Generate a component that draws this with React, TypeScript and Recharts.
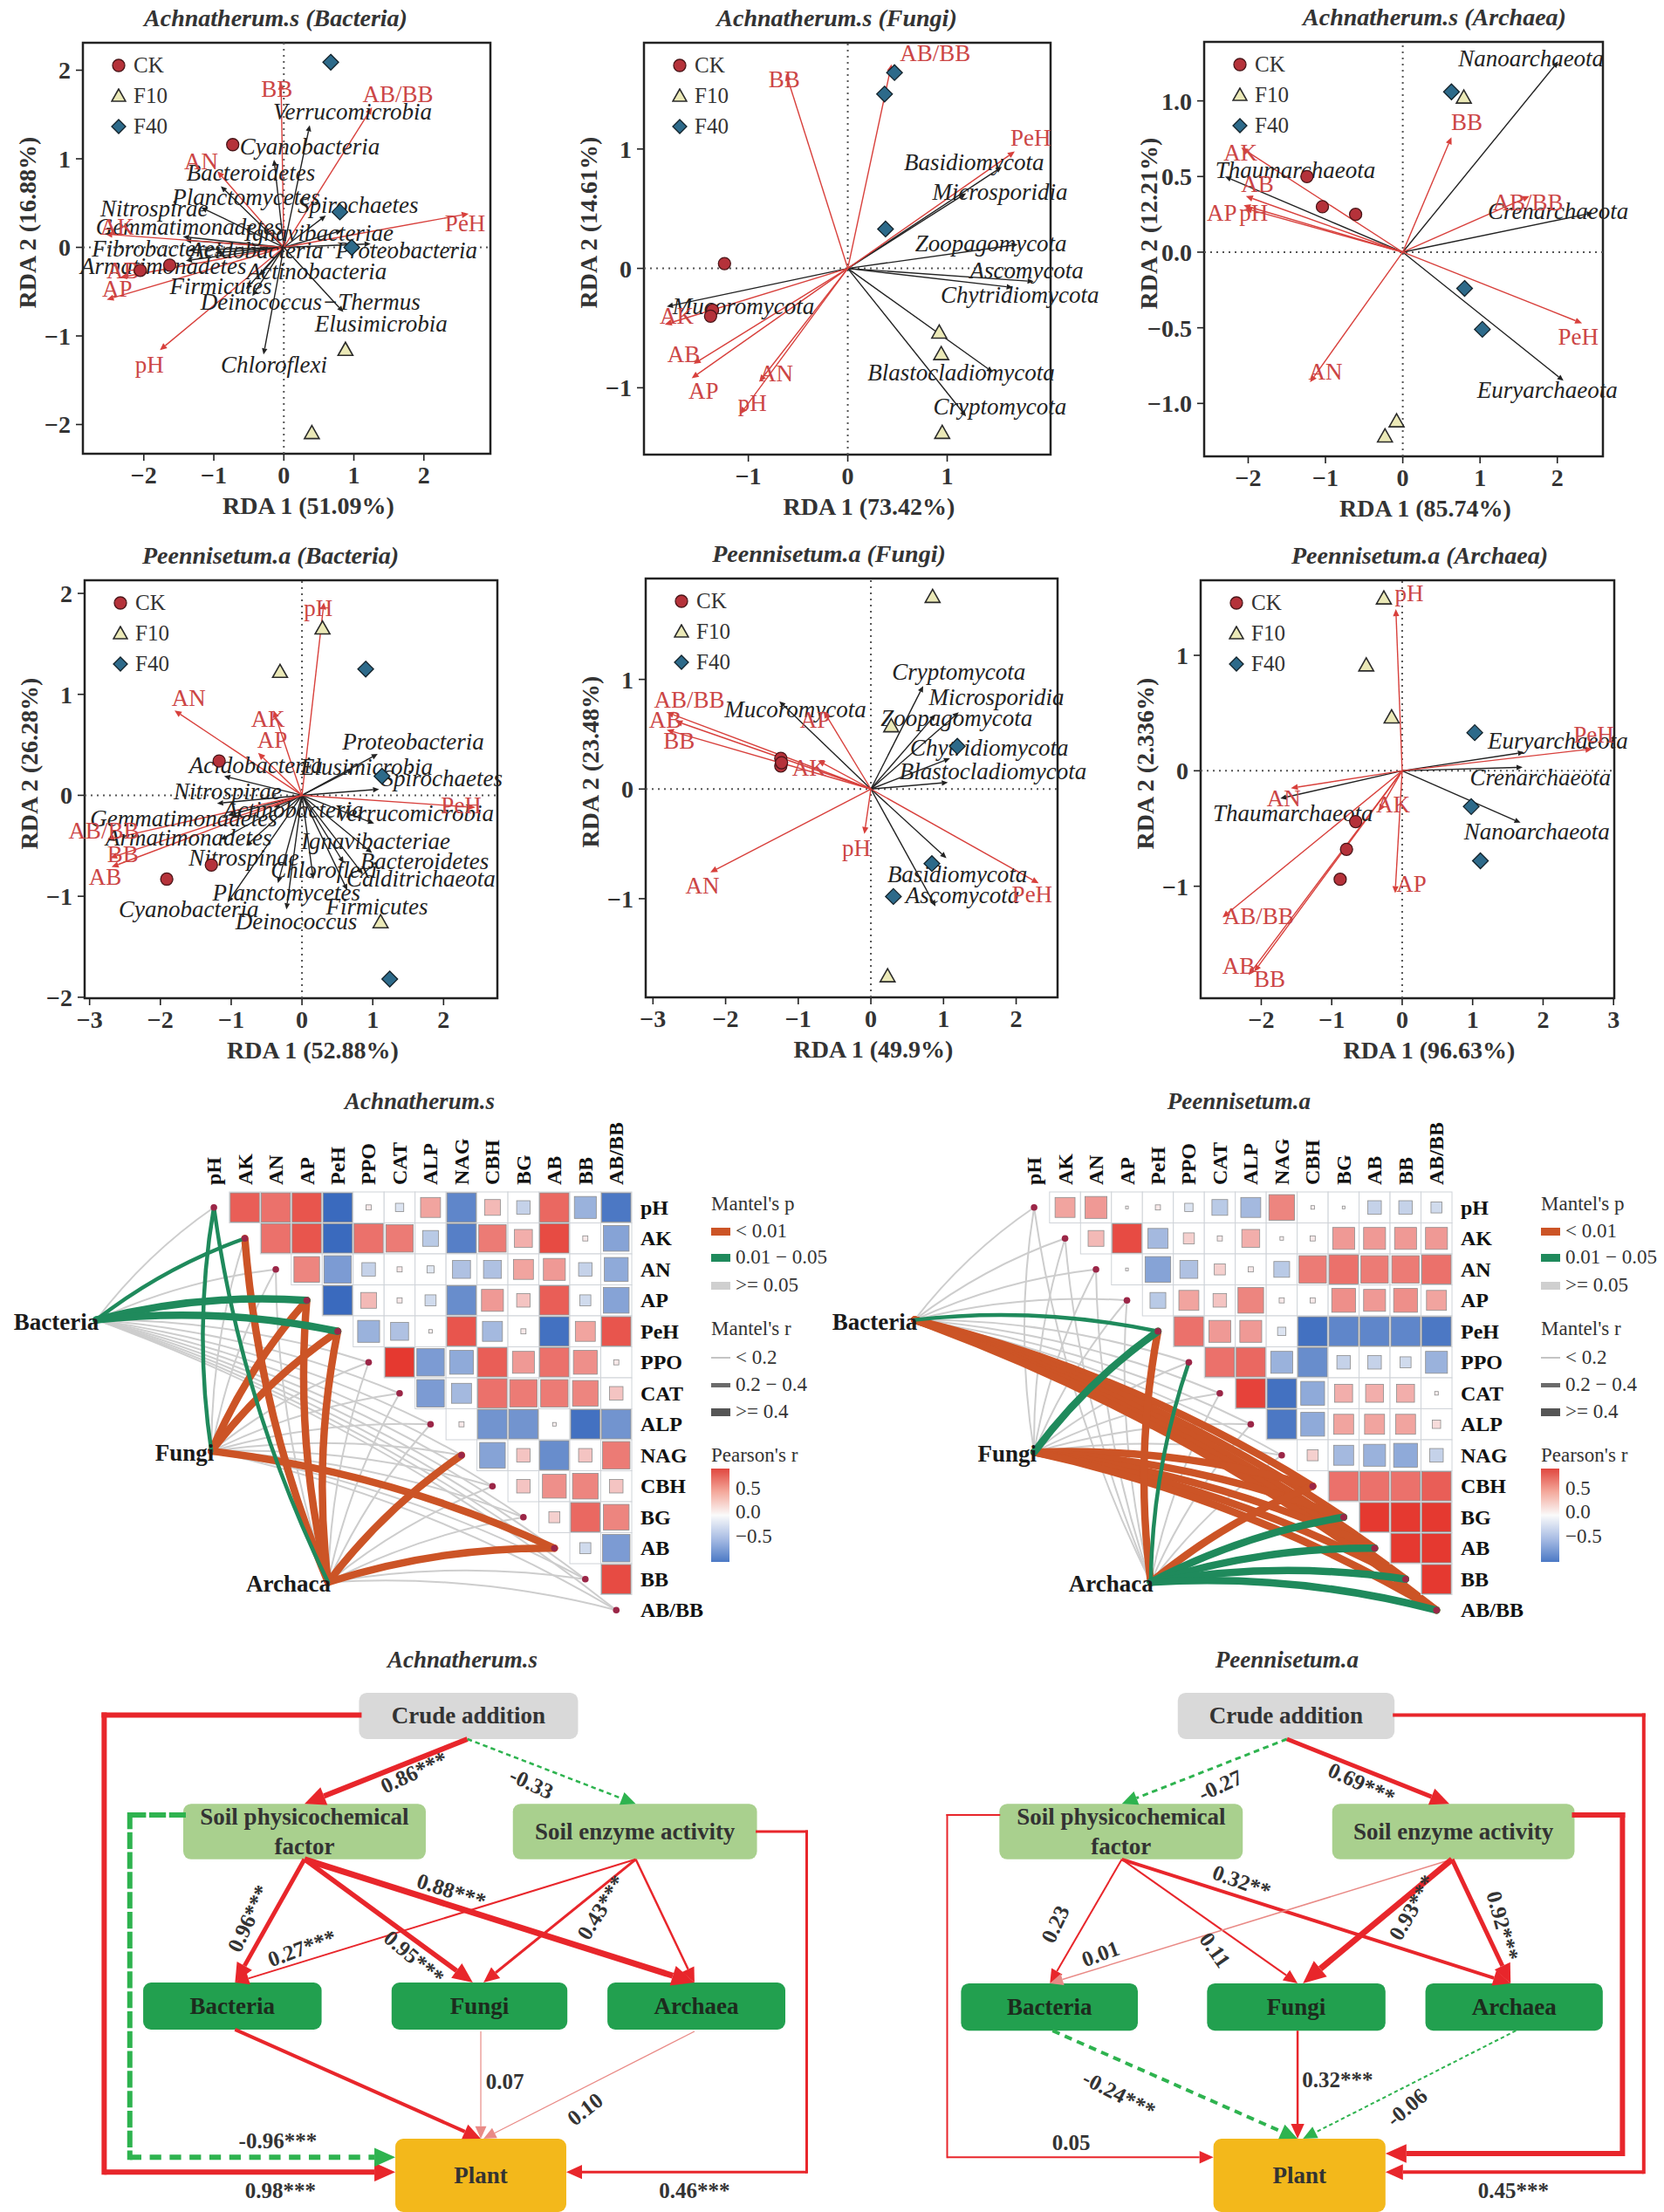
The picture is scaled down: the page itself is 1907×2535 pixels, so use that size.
import { ReferenceArea, ReferenceLine, Scatter, ScatterChart, XAxis, YAxis } from 'recharts'

const SERIF = "'Liberation Serif', 'Times New Roman', Times, serif"
const INK = '#222222'
const RED = '#d8403c'
const RED_TEXT = '#cc4545'

type Pt = [number, number]
// name, tip x, tip y, label x, label y
type Vec = [string, number, number, number, number]

// ---------- RDA: Achnatherum.s (Bacteria)
const aBacCk: Pt[] = [[-0.73, 1.16], [-2.05, -0.26], [-1.63, -0.2]]
const aBacF10: Pt[] = [[0.88, -1.16], [0.4, -2.1]]
const aBacF40: Pt[] = [[0.67, 2.09], [0.8, 0.4], [0.97, 0.0]]
const aBacEnv: Vec[] = [
  ['BB', -0.04, 1.86, -0.1, 1.79],
  ['AB/BB', 1.26, 1.58, 1.63, 1.73],
  ['AN', -0.95, 0.86, -1.18, 0.97],
  ['PeH', 2.64, 0.38, 2.59, 0.27],
  ['AK', -2.55, 0.15, -2.38, 0.23],
  ['AB', -2.34, -0.34, -2.3, -0.26],
  ['AP', -2.53, -0.59, -2.38, -0.47],
  ['pH', -1.77, -1.16, -1.92, -1.33],
]
const aBacTaxa: Vec[] = [
  ['Verrucomicrobia', 0.37, 1.38, 0.98, 1.53],
  ['Cyanobacteria', -0.14, 0.99, 0.37, 1.14],
  ['Bacteroidetes', -0.9, 0.69, -0.47, 0.84],
  ['Planctomycetes', -1.18, 0.45, -0.54, 0.57],
  ['Spirochaetes', 0.6, 0.36, 1.06, 0.48],
  ['Nitrospirae', -1.44, 0.12, -1.85, 0.44],
  ['Gemmatimonadetes', -1.41, 0.08, -1.35, 0.23],
  ['Ignavibacteriae', 0.83, 0.19, 0.5, 0.16],
  ['Fibrobacteres', -1.36, -0.03, -1.8, -0.01],
  ['Acidobacteria', -0.98, -0.06, -0.39, -0.03],
  ['Proteobacteria', 1.24, 0.04, 1.75, -0.03],
  ['Armatimonadetes', -1.4, -0.15, -1.72, -0.21],
  ['Actinobacteria', -0.35, -0.32, 0.47, -0.27],
  ['Firmicutes', -0.54, -0.47, -0.9, -0.44],
  ['Deinococcus\u2212Thermus', -0.45, -0.55, 0.38, -0.62],
  ['Elusimicrobia', 0.85, -0.73, 1.39, -0.86],
  ['Chloroflexi', -0.29, -1.21, -0.14, -1.33],
]

// ---------- RDA: Achnatherum.s (Fungi)
const aFunCk: Pt[] = [[-1.24, 0.04], [-1.36, -0.35], [-1.38, -0.4]]
const aFunF10: Pt[] = [[0.92, -0.54], [0.94, -0.72], [0.95, -1.38]]
const aFunF40: Pt[] = [[0.47, 1.64], [0.37, 1.46], [0.38, 0.33]]
const aFunEnv: Vec[] = [
  ['BB', -0.62, 1.63, -0.64, 1.58],
  ['AB/BB', 0.44, 1.71, 0.88, 1.8],
  ['PeH', 1.68, 0.98, 1.84, 1.09],
  ['AK', -1.84, -0.47, -1.72, -0.4],
  ['AB', -1.55, -0.8, -1.65, -0.72],
  ['AP', -1.57, -0.92, -1.45, -1.03],
  ['AN', -0.89, -0.95, -0.72, -0.88],
  ['pH', -1.08, -1.22, -0.96, -1.13],
]
const aFunTaxa: Vec[] = [
  ['Basidiomycota', 1.55, 0.85, 1.27, 0.89],
  ['Microsporidia', 1.19, 0.63, 1.53, 0.64],
  ['Zoopagomycota', 1.71, 0.2, 1.44, 0.21],
  ['Ascomycota', 1.87, -0.11, 1.8, -0.02],
  ['Chytridiomycota', 1.66, -0.16, 1.73, -0.22],
  ['Blastocladiomycota', 1.46, -0.87, 1.14, -0.87],
  ['Cryptomycota', 1.19, -1.24, 1.53, -1.16],
  ['Mucoromycota', -1.82, -0.32, -1.05, -0.32],
]

// ---------- RDA: Achnatherum.s (Archaea)
const aArcCk: Pt[] = [[-1.24, 0.5], [-1.04, 0.3], [-0.61, 0.25]]
const aArcF10: Pt[] = [[0.79, 1.02], [-0.08, -1.12], [-0.23, -1.22]]
const aArcF40: Pt[] = [[0.63, 1.06], [0.8, -0.24], [1.03, -0.51]]
const aArcEnv: Vec[] = [
  ['BB', 0.63, 0.76, 0.83, 0.86],
  ['AK', -2.09, 0.69, -2.1, 0.66],
  ['AB', -2.03, 0.37, -1.88, 0.45],
  ['AP', -2.06, 0.31, -2.34, 0.26],
  ['pH', -2.04, 0.29, -1.93, 0.26],
  ['AB/BB', 1.64, 0.37, 1.62, 0.33],
  ['PeH', 2.32, -0.47, 2.27, -0.56],
  ['AN', -1.2, -0.86, -1.0, -0.79],
]
const aArcTaxa: Vec[] = [
  ['Nanoarchaeota', 2.01, 1.26, 1.66, 1.28],
  ['Thaumarchaeota', -2.3, 0.5, -1.39, 0.54],
  ['Crenarchaeota', 2.46, 0.26, 2.01, 0.27],
  ['Euryarchaeota', 2.08, -0.85, 1.87, -0.91],
]

// ---------- RDA: Peennisetum.a (Bacteria)
const pBacCk: Pt[] = [[-1.17, 0.34], [-1.28, -0.69], [-1.91, -0.83]]
const pBacF10: Pt[] = [[0.29, 1.65], [-0.31, 1.22], [1.11, -1.26]]
const pBacF40: Pt[] = [[0.9, 1.25], [1.13, 0.19], [1.24, -1.82]]
const pBacEnv: Vec[] = [
  ['pH', 0.31, 1.91, 0.23, 1.85],
  ['AN', -1.8, 0.84, -1.6, 0.96],
  ['AK', -0.4, 0.84, -0.48, 0.76],
  ['AP', -0.62, 0.42, -0.42, 0.55],
  ['PeH', 2.45, -0.12, 2.25, -0.1],
  ['AB/BB', -2.75, -0.44, -2.8, -0.35],
  ['BB', -2.71, -0.62, -2.53, -0.58],
  ['AB', -2.69, -0.71, -2.78, -0.81],
]
const pBacTaxa: Vec[] = [
  ['Proteobacteria', 1.07, 0.41, 1.57, 0.53],
  ['Elusimicrobia', 0.72, 0.26, 0.91, 0.28],
  ['Spirochaetes', 1.09, 0.06, 1.98, 0.17],
  ['Acidobacteria', -1.1, 0.19, -0.65, 0.3],
  ['Nitrospirae', -1.2, -0.08, -1.05, 0.04],
  ['Gemmatimonadetes', -1.05, -0.2, -1.67, -0.23],
  ['Actinobacteria', -0.4, -0.12, -0.12, -0.14],
  ['Verrucomicrobia', 1.02, -0.28, 1.59, -0.18],
  ['Armatimonadetes', -1.15, -0.44, -1.6, -0.42],
  ['Ignavibacteriae', 0.99, -0.57, 1.04, -0.45],
  ['Nitrospinae', -0.79, -0.5, -0.82, -0.62],
  ['Bacteroidetes', 0.59, -0.67, 1.73, -0.65],
  ['Chloroflexi', 0.16, -0.83, 0.31, -0.74],
  ['Calditrichaeota', 0.86, -0.78, 1.68, -0.83],
  ['Planctomycetes', -0.34, -0.87, -0.22, -0.96],
  ['Firmicutes', 0.64, -0.94, 1.06, -1.1],
  ['Cyanobacteria', -1.05, -1.06, -1.6, -1.13],
  ['Deinococcus', -0.22, -1.13, -0.08, -1.25],
]

// ---------- RDA: Peennisetum.a (Fungi)
const pFunCk: Pt[] = [[-1.24, 0.28], [-1.24, 0.21], [-1.23, 0.24]]
const pFunF10: Pt[] = [[0.85, 1.75], [0.28, 0.57], [0.23, -1.71]]
const pFunF40: Pt[] = [[1.19, 0.39], [0.84, -0.68], [0.31, -0.98]]
const pFunEnv: Vec[] = [
  ['AB/BB', -2.81, 0.7, -2.5, 0.81],
  ['AB', -2.69, 0.62, -2.83, 0.63],
  ['BB', -2.81, 0.54, -2.64, 0.44],
  ['AP', -0.65, 0.71, -0.77, 0.63],
  ['AK', -0.73, 0.26, -0.85, 0.19],
  ['pH', -0.09, -0.41, -0.2, -0.54],
  ['AN', -2.21, -0.76, -2.32, -0.88],
  ['PeH', 2.31, -0.86, 2.22, -0.96],
]
const pFunTaxa: Vec[] = [
  ['Mucoromycota', -1.26, 0.8, -1.04, 0.73],
  ['Cryptomycota', 0.72, 0.94, 1.21, 1.07],
  ['Microsporidia', 0.89, 0.68, 1.73, 0.84],
  ['Zoopagomycota', 1.21, 0.7, 1.18, 0.65],
  ['Chytridiomycota', 1.09, 0.28, 1.63, 0.38],
  ['Blastocladiomycota', 1.06, 0.06, 1.68, 0.16],
  ['Basidiomycota', 1.04, -0.63, 1.19, -0.78],
  ['Ascomycota', 0.89, -1.07, 1.26, -0.97],
]

// ---------- RDA: Peennisetum.a (Archaea)
const pArcCk: Pt[] = [[-0.66, -0.44], [-0.79, -0.68], [-0.88, -0.94]]
const pArcF10: Pt[] = [[-0.26, 1.49], [-0.51, 0.91], [-0.15, 0.46]]
const pArcF40: Pt[] = [[1.03, 0.33], [0.98, -0.31], [1.11, -0.78]]
const pArcEnv: Vec[] = [
  ['pH', -0.09, 1.4, 0.1, 1.54],
  ['PeH', 2.7, 0.19, 2.72, 0.31],
  ['AN', -1.58, -0.15, -1.68, -0.24],
  ['AK', -0.33, -0.35, -0.13, -0.29],
  ['AP', -0.1, -1.06, 0.13, -0.98],
  ['AB/BB', -2.55, -1.27, -2.04, -1.26],
  ['AB', -2.18, -1.77, -2.32, -1.69],
  ['BB', -2.1, -1.74, -1.88, -1.8],
]
const pArcTaxa: Vec[] = [
  ['Euryarchaeota', 1.73, 0.16, 2.21, 0.26],
  ['Crenarchaeota', 1.71, 0.03, 1.96, -0.06],
  ['Nanoarchaeota', 1.68, -0.45, 1.91, -0.53],
  ['Thaumarchaeota', -1.73, -0.24, -1.55, -0.37],
]

// ---------- Mantel / Pearson
const VARS = ['pH', 'AK', 'AN', 'AP', 'PeH', 'PPO', 'CAT', 'ALP', 'NAG', 'CBH', 'BG', 'AB', 'BB', 'AB/BB']
// upper triangle, row i holds columns i+1 .. 13
const achCorr: number[][] = [
  [0.7, 0.6, 0.75, -0.9, 0.05, -0.1, 0.35, -0.7, 0.25, -0.2, 0.65, -0.4, -0.8],
  [0.6, 0.75, -0.9, 0.6, 0.55, -0.25, -0.75, 0.55, 0.3, 0.8, 0.05, -0.5],
  [0.5, -0.55, -0.2, 0.05, -0.08, -0.3, -0.3, 0.35, 0.4, -0.2, -0.45],
  [-0.9, 0.25, 0.05, -0.15, -0.65, 0.4, 0.2, 0.7, -0.15, -0.5],
  [-0.4, -0.3, 0.03, 0.75, -0.35, 0.05, -0.85, 0.35, 0.75],
  [0.9, -0.55, -0.45, 0.7, 0.4, 0.6, 0.45, 0.05],
  [-0.55, -0.35, 0.6, 0.55, 0.55, 0.5, 0.2],
  [0.05, -0.6, -0.6, 0.03, -0.85, -0.6],
  [-0.5, 0.2, -0.65, 0.2, 0.55],
  [0.2, 0.45, 0.5, 0.2],
  [0.15, 0.65, 0.5],
  [-0.15, -0.55],
  [0.8],
]
const penCorr: number[][] = [
  [0.35, 0.4, 0.02, 0.05, -0.1, -0.25, -0.35, 0.5, 0.03, 0.02, -0.2, -0.2, -0.15],
  [0.25, 0.8, -0.35, 0.15, 0.05, 0.3, 0.03, 0.05, 0.4, 0.4, 0.4, 0.4],
  [0.02, -0.5, -0.3, 0.15, 0.05, -0.25, 0.55, 0.6, 0.55, 0.55, 0.6],
  [-0.25, 0.35, 0.2, 0.5, 0.05, 0.05, 0.45, 0.4, 0.45, 0.35],
  [0.6, 0.4, 0.4, -0.1, -0.85, -0.7, -0.7, -0.7, -0.8],
  [0.6, 0.65, -0.4, -0.65, -0.2, -0.2, -0.15, -0.4],
  [0.85, -0.85, -0.45, 0.3, 0.3, 0.3, 0.03],
  [-0.8, -0.45, 0.35, 0.35, 0.35, 0.1],
  [0.15, -0.35, -0.4, -0.45, -0.2],
  [0.6, 0.6, 0.6, 0.7],
  [0.95, 0.95, 0.95],
  [0.95, 0.95],
  [0.95],
]
// community node positions in cell units (column, row)
const achNodes: [string, number, number][] = [['Bacteria', -3.8, 3.63], ['Fungi', -0.08, 7.87], ['Archaca', 3.69, 12.1]]
const penNodes: [string, number, number][] = [['Bacteria', -3.86, 3.63], ['Fungi', 0, 7.9], ['Archaca', 3.77, 12.1]]
// node, variable, p class (0 <0.01, 1 0.01-0.05), r class (0 <0.2, 1 0.2-0.4, 2 >=0.4); all others p >= 0.05
const achEdges: [string, string, number, number][] = [
  ['Bacteria', 'AK', 1, 1], ['Bacteria', 'AP', 1, 2], ['Bacteria', 'PeH', 1, 2],
  ['Fungi', 'pH', 1, 1], ['Fungi', 'AP', 0, 2], ['Fungi', 'PeH', 0, 2], ['Fungi', 'AB', 0, 2],
  ['Archaca', 'pH', 1, 1], ['Archaca', 'AK', 0, 2], ['Archaca', 'AP', 0, 2], ['Archaca', 'PeH', 0, 2],
  ['Archaca', 'NAG', 0, 2], ['Archaca', 'AB', 0, 2],
]
const penEdges: [string, string, number, number][] = [
  ['Bacteria', 'PeH', 1, 1], ['Bacteria', 'CBH', 0, 2], ['Bacteria', 'BG', 0, 2], ['Bacteria', 'AB', 0, 2],
  ['Bacteria', 'BB', 0, 2], ['Bacteria', 'AB/BB', 0, 2],
  ['Fungi', 'PeH', 1, 2], ['Fungi', 'CBH', 0, 2], ['Fungi', 'BG', 0, 2], ['Fungi', 'AB', 0, 2],
  ['Fungi', 'BB', 0, 2], ['Fungi', 'AB/BB', 0, 2],
  ['Archaca', 'PeH', 0, 2], ['Archaca', 'PPO', 1, 1], ['Archaca', 'CBH', 0, 2], ['Archaca', 'BG', 1, 2],
  ['Archaca', 'AB', 1, 2], ['Archaca', 'BB', 1, 2], ['Archaca', 'AB/BB', 1, 2],
]

// ---------- SEM (diagram units 0..1568 both ways)
type Box = [string, number, number, number, number, string]
type Link = [number[][], number, number] // points, sign (1 pos, -1 neg, 2 weak pos), width
type Note = [string, number, number, number]
const achBoxes: Box[] = [
  ['Crude addition', 672, 1082, 165, 290, 'crude'],
  ['Soil physicochemical|factor', 343, 797, 465, 615, 'soil'],
  ['Soil enzyme activity', 960, 1417, 465, 615, 'soil'],
  ['Bacteria', 268, 602, 948, 1075, 'microbe'],
  ['Fungi', 733, 1062, 948, 1075, 'microbe'],
  ['Archaea', 1137, 1470, 948, 1075, 'microbe'],
  ['Plant', 740, 1060, 1370, 1568, 'plant'],
]
const achLinks: Link[] = [
  [[[875, 290], [570, 465]], 1, 6],
  [[[875, 290], [1190, 465]], -1, 2.5],
  [[[672, 225], [195, 225], [195, 1460], [740, 1460]], 1, 6],
  [[[343, 495], [243, 495], [243, 1420], [740, 1420]], -1, 6],
  [[[1417, 540], [1510, 540], [1510, 1460], [1060, 1460]], 1, 3],
  [[[570, 615], [440, 948]], 1, 5],
  [[[570, 615], [885, 948]], 1, 5.5],
  [[[570, 615], [1300, 948]], 1, 7],
  [[[1190, 615], [440, 948]], 1, 2],
  [[[1190, 615], [905, 948]], 1, 3],
  [[[1190, 615], [1300, 948]], 1, 2.5],
  [[[440, 1075], [900, 1370]], 1, 4],
  [[[900, 1080], [900, 1370]], 2, 1.2],
  [[[1300, 1080], [905, 1370]], 2, 1.2],
]
const achNotes: Note[] = [
  ['0.86***', 775, 380, -25], ['-0.33', 995, 410, 25], ['0.96***', 465, 775, -65],
  ['0.27***', 565, 855, -20], ['0.95***', 775, 880, 40], ['0.88***', 845, 700, 18],
  ['0.43***', 1125, 745, -58], ['0.07', 945, 1215, 0], ['0.10', 1095, 1290, -38],
  ['-0.96***', 520, 1375, 0], ['0.98***', 525, 1510, 0], ['0.46***', 1300, 1510, 0],
]
const penBoxes: Box[] = [
  ['Crude addition', 655, 1062, 165, 290, 'crude'],
  ['Soil physicochemical|factor', 320, 777, 465, 615, 'soil'],
  ['Soil enzyme activity', 945, 1400, 465, 615, 'soil'],
  ['Bacteria', 248, 580, 950, 1078, 'microbe'],
  ['Fungi', 710, 1045, 950, 1078, 'microbe'],
  ['Archaea', 1120, 1453, 950, 1078, 'microbe'],
  ['Plant', 722, 1045, 1370, 1568, 'plant'],
]
const penLinks: Link[] = [
  [[[860, 290], [550, 465]], -1, 3],
  [[[860, 290], [1165, 465]], 1, 5],
  [[[1062, 225], [1530, 225], [1530, 1460], [1045, 1460]], 1, 4],
  [[[1400, 495], [1490, 495], [1490, 1410], [1045, 1410]], 1, 6],
  [[[320, 495], [222, 495], [222, 1420], [722, 1420]], 1, 2],
  [[[550, 615], [415, 950]], 1, 2],
  [[[550, 615], [880, 950]], 1, 2],
  [[[550, 615], [1280, 950]], 1, 4],
  [[[1170, 615], [415, 950]], 2, 1.5],
  [[[1170, 615], [890, 950]], 1, 7],
  [[[1170, 615], [1280, 950]], 1, 5],
  [[[420, 1078], [880, 1370]], -1, 4],
  [[[880, 1078], [880, 1370]], 1, 2.5],
  [[[1290, 1078], [890, 1370]], -1, 2],
]
const penNotes: Note[] = [
  ['-0.27', 735, 415, -25], ['0.69***', 1000, 410, 25], ['0.23', 425, 790, -65],
  ['0.01', 510, 870, -20], ['0.11', 725, 860, 55], ['0.32**', 775, 675, 20],
  ['0.93***', 1095, 745, -60], ['0.92***', 1265, 795, 75], ['-0.24***', 545, 1250, 27],
  ['0.32***', 955, 1210, 0], ['-0.06', 1085, 1285, -40], ['0.05', 455, 1380, 0], ['0.45***', 1285, 1510, 0],
]

// ---------- panel layout
const rdaPanels = [
  { title: 'Achnatherum.s (Bacteria)', xLabel: 'RDA 1 (51.09%)', yLabel: 'RDA 2 (16.88%)', frame: [95, 562, 49, 520], titleX: 316,
    xDomain: [-2.87, 2.95], yDomain: [-2.33, 2.31], xTicks: [-2, -1, 0, 1, 2], yTicks: [-2, -1, 0, 1, 2], yDec: false,
    ck: aBacCk, f10: aBacF10, f40: aBacF40, env: aBacEnv, taxa: aBacTaxa },
  { title: 'Achnatherum.s (Fungi)', xLabel: 'RDA 1 (73.42%)', yLabel: 'RDA 2 (14.61%)', frame: [738, 1204, 49, 521], titleX: 959,
    xDomain: [-2.05, 2.04], yDomain: [-1.56, 1.89], xTicks: [-1, 0, 1], yTicks: [-1, 0, 1], yDec: false,
    ck: aFunCk, f10: aFunF10, f40: aFunF40, env: aFunEnv, taxa: aFunTaxa },
  { title: 'Achnatherum.s (Archaea)', xLabel: 'RDA 1 (85.74%)', yLabel: 'RDA 2 (12.21%)', frame: [1380, 1837, 48, 523], titleX: 1644,
    xDomain: [-2.57, 2.59], yDomain: [-1.35, 1.39], xTicks: [-2, -1, 0, 1, 2], yTicks: [-1, -0.5, 0, 0.5, 1], yDec: true,
    ck: aArcCk, f10: aArcF10, f40: aArcF40, env: aArcEnv, taxa: aArcTaxa },
  { title: 'Peennisetum.a (Bacteria)', xLabel: 'RDA 1 (52.88%)', yLabel: 'RDA 2 (26.28%)', frame: [97, 570, 665, 1144], titleX: 310,
    xDomain: [-3.07, 2.76], yDomain: [-2.01, 2.13], xTicks: [-3, -2, -1, 0, 1, 2], yTicks: [-2, -1, 0, 1, 2], yDec: false,
    ck: pBacCk, f10: pBacF10, f40: pBacF40, env: pBacEnv, taxa: pBacTaxa },
  { title: 'Peennisetum.a (Fungi)', xLabel: 'RDA 1 (49.9%)', yLabel: 'RDA 2 (23.48%)', frame: [740, 1212, 663, 1143], titleX: 950,
    xDomain: [-3.1, 2.57], yDomain: [-1.9, 1.92], xTicks: [-3, -2, -1, 0, 1, 2], yTicks: [-1, 0, 1], yDec: false,
    ck: pFunCk, f10: pFunF10, f40: pFunF40, env: pFunEnv, taxa: pFunTaxa },
  { title: 'Peennisetum.a (Archaea)', xLabel: 'RDA 1 (96.63%)', yLabel: 'RDA 2 (2.336%)', frame: [1376, 1850, 665, 1144], titleX: 1627,
    xDomain: [-2.86, 3.01], yDomain: [-1.97, 1.65], xTicks: [-2, -1, 0, 1, 2, 3], yTicks: [-1, 0, 1], yDec: false,
    ck: pArcCk, f10: pArcF10, f40: pArcF40, env: pArcEnv, taxa: pArcTaxa },
]

// ---------- shapes
const arrow = (color: string, w: number, head: number, dash?: string) => (q: any) => {
  const { x1, y1, x2, y2 } = q
  const a = Math.atan2(y2 - y1, x2 - x1)
  const c = Math.cos(a)
  const s = Math.sin(a)
  const hw = head * 0.45
  const bx = x2 - head * c
  const by = y2 - head * s
  return (
    <g>
      <line x1={x1} y1={y1} x2={bx} y2={by} stroke={color} strokeWidth={w} strokeDasharray={dash} />
      <polygon points={`${x2},${y2} ${bx - hw * s},${by + hw * c} ${bx + hw * s},${by - hw * c}`} fill={color} />
    </g>
  )
}
const plainSeg = (color: string, w: number, dash?: string) => (q: any) => (
  <line x1={q.x1} y1={q.y1} x2={q.x2} y2={q.y2} stroke={color} strokeWidth={w} strokeDasharray={dash} strokeLinecap="square" />
)
const circleShape = (q: any) => <circle cx={q.cx} cy={q.cy} r={7} fill="#b5323a" stroke="#4a1518" strokeWidth={1.3} />
const triShape = (q: any) => (
  <polygon points={`${q.cx},${q.cy - 9} ${q.cx - 8.5},${q.cy + 6} ${q.cx + 8.5},${q.cy + 6}`} fill="#ebe9b7" stroke="#2b2b2b" strokeWidth={1.6} />
)
const diaShape = (q: any) => (
  <polygon points={`${q.cx},${q.cy - 9} ${q.cx + 9},${q.cy} ${q.cx},${q.cy + 9} ${q.cx - 9},${q.cy}`} fill="#2d6a8a" stroke="#14232b" strokeWidth={1.3} />
)
const textShape = (color: string, italic: boolean) => (q: any) => (
  <text x={q.cx} y={q.cy} textAnchor="middle" dominantBaseline="central" fill={color} fontSize={27}
    fontStyle={italic ? 'italic' : 'normal'} fontFamily={SERIF}>{q.label ?? q.payload?.label}</text>
)

const LEGEND = [
  { name: 'CK', icon: <circle cx={9} cy={9} r={7} fill="#b5323a" stroke="#4a1518" strokeWidth={1.3} /> },
  { name: 'F10', icon: <polygon points="9,1 1,15 17,15" fill="#ebe9b7" stroke="#2b2b2b" strokeWidth={1.6} /> },
  { name: 'F40', icon: <polygon points="9,1 17,9 9,17 1,9" fill="#2d6a8a" stroke="#14232b" strokeWidth={1.3} /> },
]

const abs = (s: React.CSSProperties): React.CSSProperties => ({ position: 'absolute', whiteSpace: 'nowrap', ...s })

function RdaPanel({ p }: { p: any }) {
  const [l, r, t, b] = p.frame
  const ml = 95
  const mt = 20
  const mr = 80
  const xh = 80
  const yw = 62
  const pw = r - l
  const ph = b - t
  const w = pw + ml + mr
  const h = ph + mt + xh
  const num = (v: number, dec: boolean) => {
    const s = dec ? Math.abs(v).toFixed(1) : String(Math.abs(v))
    return v < 0 ? '\u2212' + s : s
  }
  const tick = { fontSize: 28, fontWeight: 700, fill: '#333', fontFamily: SERIF }
  const pts = (arr: Pt[]) => arr.map(([x, y]) => ({ x, y }))
  const lbl = (arr: Vec[]) => arr.map(([label, , , x, y]) => ({ x, y, label }))
  return (
    <div style={abs({ left: l - ml, top: t - mt, width: w, height: h })}>
      <ScatterChart width={w} height={h} margin={{ top: mt, right: mr, bottom: 0, left: ml - yw }}>
        <XAxis type="number" dataKey="x" domain={p.xDomain} ticks={p.xTicks} height={xh} interval={0}
          axisLine={false} tickSize={8} tickMargin={6} tick={tick} tickLine={{ stroke: INK, strokeWidth: 1.6 }}
          tickFormatter={(v: number) => num(v, false)} />
        <YAxis type="number" dataKey="y" domain={p.yDomain} ticks={p.yTicks} width={yw} interval={0}
          axisLine={false} tickSize={8} tickMargin={6} tick={tick} tickLine={{ stroke: INK, strokeWidth: 1.6 }}
          tickFormatter={(v: number) => num(v, p.yDec)} />
        <ReferenceLine x={0} stroke="#555" strokeDasharray="2 5" strokeWidth={2} />
        <ReferenceLine y={0} stroke="#555" strokeDasharray="2 5" strokeWidth={2} />
        {p.taxa.map(([name, x, y]: Vec) => (
          <ReferenceLine key={'t' + name} segment={[{ x: 0, y: 0 }, { x, y }]} shape={arrow(INK, 1.4, 7)} />
        ))}
        {p.env.map(([name, x, y]: Vec) => (
          <ReferenceLine key={'e' + name} segment={[{ x: 0, y: 0 }, { x, y }]} shape={arrow(RED, 1.4, 8)} />
        ))}
        <Scatter data={lbl(p.taxa)} shape={textShape('#222', true)} isAnimationActive={false} />
        <Scatter data={lbl(p.env)} shape={textShape(RED_TEXT, false)} isAnimationActive={false} />
        <Scatter data={pts(p.ck)} shape={circleShape} isAnimationActive={false} />
        <Scatter data={pts(p.f10)} shape={triShape} isAnimationActive={false} />
        <Scatter data={pts(p.f40)} shape={diaShape} isAnimationActive={false} />
        <ReferenceArea x1={p.xDomain[0]} x2={p.xDomain[1]} y1={p.yDomain[0]} y2={p.yDomain[1]}
          fill="none" stroke={INK} strokeWidth={2.5} ifOverflow="visible" />
      </ScatterChart>
      <div style={abs({ left: p.titleX - (l - ml), top: mt - 28, transform: 'translate(-50%,-50%)', fontSize: 28,
        fontWeight: 700, fontStyle: 'italic', color: '#333' })}>{p.title}</div>
      <div style={abs({ left: ml + pw / 2 + 25, top: mt + ph + 60, transform: 'translate(-50%,-50%)', fontSize: 28,
        fontWeight: 700, color: '#333' })}>{p.xLabel}</div>
      <div style={abs({ left: ml - 63, top: mt + ph / 2 - 30, transform: 'translate(-50%,-50%) rotate(-90deg)', fontSize: 28,
        fontWeight: 700, color: '#333' })}>{p.yLabel}</div>
      {LEGEND.map((g, k) => (
        <div key={g.name} style={abs({ left: ml + 32, top: mt + 14 + k * 35, height: 24, display: 'flex', alignItems: 'center',
          fontSize: 25, color: '#333' })}>
          <svg width={18} height={18} style={{ marginRight: 8 }}>{g.icon}</svg>
          {g.name}
        </div>
      ))}
    </div>
  )
}

// ---------- Mantel heatmap
const CELL = 35.5
const P_COLOR = ['#cc5426', '#1f8a5c', '#cdcdcd']
const R_WIDTH = [2, 4.5, 8.5]
const mix = (a: number[], b: number[], t: number) => `rgb(${a.map((v, i) => Math.round(v + (b[i] - v) * t)).join(',')})`
const corrColor = (r: number) => {
  const t = Math.pow(Math.min(1, Math.abs(r) / 0.9), 0.85)
  return mix([250, 250, 250], r > 0 ? [229, 57, 48] : [58, 106, 190], t)
}
const cellShape = (q: any) => {
  const r = q.rv ?? q.payload?.rv ?? 0
  const s = CELL * 0.94 * Math.pow(Math.min(1, Math.abs(r) / 0.6), 0.7)
  return (
    <g>
      <rect x={q.cx - CELL / 2} y={q.cy - CELL / 2} width={CELL} height={CELL} fill="#fff" stroke="#cfd3d8" strokeWidth={1} />
      <rect x={q.cx - s / 2} y={q.cy - s / 2} width={s} height={s} fill={corrColor(r)} stroke="#8d8d8d" strokeWidth={0.8} />
    </g>
  )
}
const curve = (color: string, w: number) => (q: any) => {
  const { x1, y1, x2, y2 } = q
  const k = 0.08
  const cx = (x1 + x2) / 2 + (y2 - y1) * k
  const cy = (y1 + y2) / 2 - (x2 - x1) * k
  return <path d={`M${x1},${y1} Q${cx},${cy} ${x2},${y2}`} fill="none" stroke={color} strokeWidth={w} strokeLinecap="round" />
}
const dotShape = (q: any) => <circle cx={q.cx} cy={q.cy} r={3.8} fill="#9b2647" />
const nodeShape = (q: any) => (
  <text x={q.cx + 3} y={q.cy + 2} textAnchor="end" dominantBaseline="central" fontSize={27} fontWeight={700} fontFamily={SERIF}
    fill="#1a1a1a">{q.label ?? q.payload?.label}</text>
)
const colTick = (q: any) => (
  <text transform={`translate(${q.x},${q.y}) rotate(-90)`} textAnchor="start" dominantBaseline="central" fontSize={24}
    fontWeight={700} fontFamily={SERIF} fill="#111">{VARS[q.payload.value]}</text>
)
const rowTick = (q: any) => (
  <text x={q.x} y={q.y} textAnchor="start" dominantBaseline="central" fontSize={24} fontWeight={700} fontFamily={SERIF}
    fill="#111">{VARS[q.payload.value]}</text>
)

function MantelLegend({ x }: { x: number }) {
  const txt = { fontSize: 23, color: '#333' }
  const sw = (top: number, color: string, hgt: number) => (
    <div style={abs({ left: x, top: top - hgt / 2, width: 22, height: hgt, background: color })} />
  )
  const lab = (top: number, s: string, dx = 28) => (
    <div style={abs({ left: x + dx, top, transform: 'translateY(-50%)', ...txt })}>{s}</div>
  )
  return (
    <>
      {lab(150, "Mantel's p", 0)}
      {sw(181, P_COLOR[0], 9)}{lab(181, '< 0.01')}
      {sw(211, P_COLOR[1], 9)}{lab(211, '0.01 \u2212 0.05')}
      {sw(243, '#cfcfcf', 9)}{lab(243, '>= 0.05')}
      {lab(293, "Mantel's r", 0)}
      {sw(326, '#c4c4c4', 2.5)}{lab(326, '< 0.2')}
      {sw(357, '#6b6b6b', 5)}{lab(357, '0.2 \u2212 0.4')}
      {sw(388, '#555', 9)}{lab(388, '>= 0.4')}
      {lab(438, "Pearson's r", 0)}
      <div style={abs({ left: x, top: 453, width: 21, height: 107,
        background: 'linear-gradient(to bottom, #e0463e 0%, #f4a99c 25%, #fafafa 50%, #a9bde4 75%, #4b79c5 100%)' })} />
      {lab(476, '0.5')}{lab(503, '0.0')}{lab(531, '\u22120.5')}
    </>
  )
}

function MantelPanel({ left, title, titleX, corr, nodes, edges, legendX }: any) {
  const W = 960
  const H = 650
  const cells: any[] = []
  corr.forEach((row: number[], i: number) => row.forEach((rv, k) => cells.push({ x: i + 1 + k, y: i, rv })))
  const diag = VARS.map((_, i) => ({ x: i, y: i }))
  const links: any[] = []
  nodes.forEach(([name, nx, ny]: [string, number, number]) => {
    VARS.forEach((v, i) => {
      const e = edges.find((d: any) => d[0] === name && d[1] === v)
      links.push({ key: name + v, nx, ny, i, p: e ? e[2] : 2, r: e ? e[3] : 0 })
    })
  })
  const order = [2, 0, 1]
  const sorted = order.flatMap((pc) => links.filter((d) => d.p === pc))
  return (
    <div style={abs({ left, top: 1230, width: W, height: H })}>
      <ScatterChart width={W} height={H} margin={{ top: 36, right: 146, bottom: 17, left: 50 }}>
        <XAxis type="number" dataKey="x" orientation="top" domain={[-5.5, 13.5]} height={100}
          ticks={VARS.map((_, i) => i)} interval={0} axisLine={false} tickLine={false} tickSize={0} tickMargin={8} tick={colTick} />
        <YAxis type="number" dataKey="y" orientation="right" domain={[-0.5, 13.5]} reversed width={90}
          ticks={VARS.map((_, i) => i)} interval={0} axisLine={false} tickLine={false} tickSize={0} tickMargin={10} tick={rowTick} />
        {sorted.map((d) => (
          <ReferenceLine key={d.key} segment={[{ x: d.nx, y: d.ny }, { x: d.i, y: d.i }]} ifOverflow="visible"
            shape={curve(P_COLOR[d.p], R_WIDTH[d.r])} />
        ))}
        <Scatter data={cells} shape={cellShape} isAnimationActive={false} />
        <Scatter data={diag} shape={dotShape} isAnimationActive={false} />
        <Scatter data={nodes.map(([label, x, y]: any) => ({ x, y, label }))} shape={nodeShape} isAnimationActive={false} />
      </ScatterChart>
      <div style={abs({ left: titleX - left, top: 32, transform: 'translate(-50%,-50%)', fontSize: 27, fontWeight: 700,
        fontStyle: 'italic', color: '#333' })}>{title}</div>
      <MantelLegend x={legendX - left} />
    </div>
  )
}

// ---------- SEM
const BOX_FILL: Record<string, string> = { crude: '#d9d9d9', soil: '#a9d08e', microbe: '#22a04f', plant: '#f3b81b' }
const LINK_COLOR: Record<number, string> = { 1: '#e8262b', [-1]: '#2eb34f', 2: '#e98a86' }
const boxShape = (label: string, kind: string) => (q: any) => {
  const lines = label.split('|')
  const cx = q.x + q.width / 2
  const cy = q.y + q.height / 2
  return (
    <g>
      <rect x={q.x} y={q.y} width={q.width} height={q.height} rx={9} fill={BOX_FILL[kind]} />
      {lines.map((s, i) => (
        <text key={s} x={cx} y={cy + (i - (lines.length - 1) / 2) * 34} textAnchor="middle" dominantBaseline="central"
          fontSize={27} fontWeight={700} fontFamily={SERIF} fill={kind === 'microbe' ? '#1d2b1d' : '#333'}>{s}</text>
      ))}
    </g>
  )
}
const noteShape = (q: any) => {
  const label = q.label ?? q.payload?.label
  const angle = q.angle ?? q.payload?.angle ?? 0
  return (
    <text x={q.cx} y={q.cy} textAnchor="middle" dominantBaseline="central" transform={`rotate(${angle} ${q.cx} ${q.cy})`}
      fontSize={25} fontWeight={700} fontFamily={SERIF} fill="#333">{label}</text>
  )
}

function SemPanel({ left, width, title, titleX, boxes, links, notes }: any) {
  const H = 665
  return (
    <div style={abs({ left, top: 1870, width, height: H })}>
      <ScatterChart width={width} height={H} margin={{ top: 0, right: 0, bottom: 0, left: 0 }}>
        <XAxis type="number" dataKey="x" domain={[0, 1568]} hide />
        <YAxis type="number" dataKey="y" domain={[0, 1568]} reversed hide />
        {links.flatMap(([pts, sign, w]: Link, i: number) =>
          pts.slice(1).map((pt, k) => {
            const color = LINK_COLOR[sign]
            const dash = sign === -1 ? `${w * 2.2} ${w * 1.6}` : undefined
            const last = k === pts.length - 2
            return (
              <ReferenceLine key={`l${i}-${k}`} segment={[{ x: pts[k][0], y: pts[k][1] }, { x: pt[0], y: pt[1] }]}
                ifOverflow="visible" shape={last ? arrow(color, w, 12 + 2 * w, dash) : plainSeg(color, w, dash)} />
            )
          }),
        )}
        {boxes.map(([label, x1, x2, y1, y2, kind]: Box) => (
          <ReferenceArea key={label} x1={x1} x2={x2} y1={y1} y2={y2} ifOverflow="visible" shape={boxShape(label, kind)} />
        ))}
        <Scatter data={notes.map(([label, x, y, angle]: Note) => ({ x, y, label, angle }))} shape={noteShape} isAnimationActive={false} />
      </ScatterChart>
      <div style={abs({ left: titleX - left, top: 32, transform: 'translate(-50%,-50%)', fontSize: 27, fontWeight: 700,
        fontStyle: 'italic', color: '#333' })}>{title}</div>
    </div>
  )
}

export default function App() {
  return (
    <div style={{ position: 'absolute', left: 0, top: 0, width: 1907, height: 2535, background: '#fff', fontFamily: SERIF, overflow: 'hidden' }}>
      {rdaPanels.map((p) => <RdaPanel key={p.title} p={p} />)}
      <MantelPanel left={0} title="Achnatherum.s" titleX={481} corr={achCorr} nodes={achNodes} edges={achEdges} legendX={815} />
      <MantelPanel left={940} title="Peennisetum.a" titleX={1420} corr={penCorr} nodes={penNodes} edges={penEdges} legendX={1766} />
      <SemPanel left={0} width={960} title="Achnatherum.s" titleX={530} boxes={achBoxes} links={achLinks} notes={achNotes} />
      <SemPanel left={950} width={957} title="Peennisetum.a" titleX={1475} boxes={penBoxes} links={penLinks} notes={penNotes} />
    </div>
  )
}
